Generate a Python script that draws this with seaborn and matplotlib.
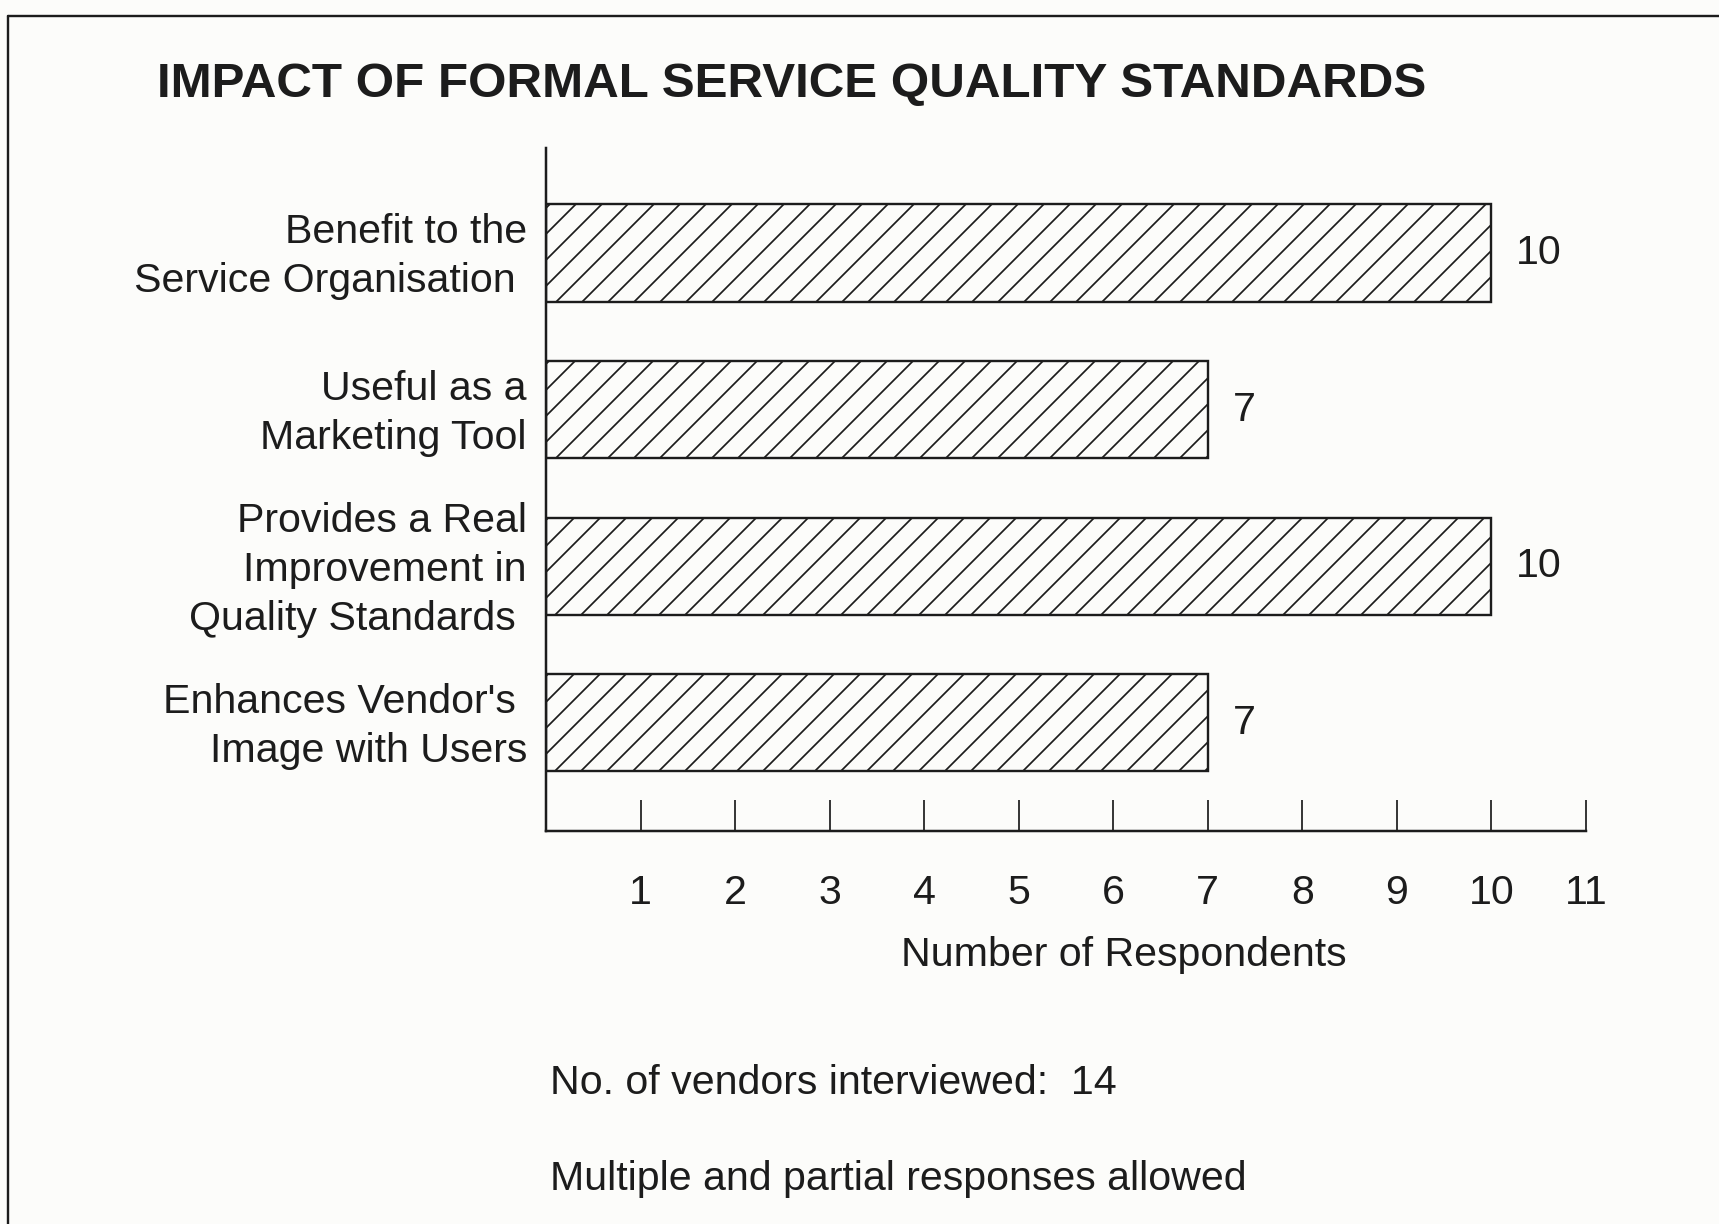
import matplotlib
matplotlib.use("Agg")
import matplotlib.pyplot as plt
from matplotlib.lines import Line2D
from matplotlib.transforms import ScaledTranslation
import seaborn as sns

# ----------------------------------------------------------------
# Data
# ----------------------------------------------------------------
categories = [
    "Benefit to the\nService Organisation ",
    "Useful as a\nMarketing Tool",
    "Provides a Real\nImprovement in\nQuality Standards ",
    "Enhances Vendor's \nImage with Users",
]
respondents = [10, 7, 10, 7]
x_ticks = list(range(1, 12))

TITLE = "IMPACT OF FORMAL SERVICE QUALITY STANDARDS"
X_LABEL = "Number of Respondents"
NOTES = ["No. of vendors interviewed:  14", "Multiple and partial responses allowed"]

# ----------------------------------------------------------------
# Style
# ----------------------------------------------------------------
BG = "#fcfcfa"
INK = "#1c1c1c"
DPI = 156

sns.set_theme(style="white")
plt.rcParams["font.family"] = ["Liberation Sans", "DejaVu Sans"]
plt.rcParams["hatch.linewidth"] = 0.8
plt.rcParams["hatch.color"] = INK
plt.rcParams["text.color"] = INK

fig = plt.figure(figsize=(1719 / DPI, 1224 / DPI), dpi=DPI, facecolor=BG)
ax = fig.add_axes([546 / 1719, 1 - 831 / 1224, 1040 / 1719, 683 / 1224])
ax.set_facecolor(BG)

sns.barplot(x=respondents, y=categories, orient="h", color=BG, saturation=1,
            edgecolor=INK, linewidth=1.1, hatch="//", width=0.62, ax=ax)

for cont in ax.containers:
    ax.bar_label(cont, padding=11.5, fontsize=19, color=INK)

ax.set_xlim(0, 11)
ax.set_ylim(3.69, -0.67)
ax.set_xticks(x_ticks)
ax.set_xticklabels([str(t) for t in x_ticks])
ax.tick_params(axis="x", direction="in", length=14.3, width=0.8, color=INK,
               pad=20, labelsize=19, labelcolor=INK, bottom=True)
ax.tick_params(axis="y", length=0, pad=8.8, labelsize=19, labelcolor=INK)

# category labels sit a touch above the bar centres in the original
lift = ScaledTranslation(0, 6 / DPI, fig.dpi_scale_trans)
for tick in ax.yaxis.get_major_ticks():
    lbl = tick.label1
    lbl.set_horizontalalignment("right")
    lbl.set_multialignment("right")
    lbl.set_linespacing(1.38)
    lbl.set_transform(lbl.get_transform() + lift)

sns.despine(ax=ax, top=True, right=True)
for side in ["left", "bottom"]:
    ax.spines[side].set_color(INK)
    ax.spines[side].set_linewidth(1.15)

ax.set_xlabel(X_LABEL, fontsize=19, color=INK, va="center")
ax.xaxis.set_label_coords(578 / 1040, (831 - 955) / 683)
ax.set_ylabel("")

# title and notes
fig.text(157 / 1719, 1 - 84 / 1224, TITLE, fontsize=22.8, fontweight="bold",
         ha="left", va="center", color=INK)
fig.text(550 / 1719, 1 - 1083 / 1224, NOTES[0], fontsize=19, ha="left", va="center")
fig.text(550 / 1719, 1 - 1179 / 1224, NOTES[1], fontsize=19, ha="left", va="center")

# page frame (top and left edges)
fx, fy = 8 / 1719, 1 - 16 / 1224
fig.add_artist(Line2D([fx, 1], [fy, fy], transform=fig.transFigure, color=INK, lw=1.1))
fig.add_artist(Line2D([fx, fx], [0, fy], transform=fig.transFigure, color=INK, lw=1.1))

fig.savefig("out.png", dpi=DPI, facecolor=BG)
